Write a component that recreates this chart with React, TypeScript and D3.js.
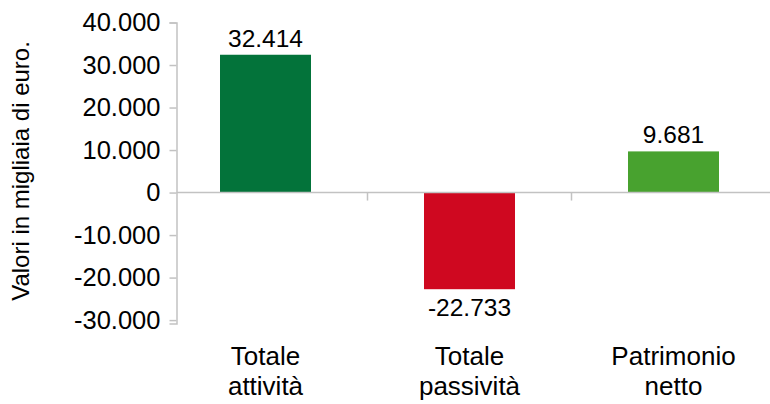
import { useEffect, useRef } from "react";
import * as d3 from "d3";

const categories = ["Totale attività", "Totale passività", "Patrimonio netto"];
const categoryLines = [
  ["Totale", "attività"],
  ["Totale", "passività"],
  ["Patrimonio", "netto"],
];
const values = [32414, -22733, 9681];
const barColors = ["#03733a", "#cf0820", "#48a22f"];
const yTicks = [-30000, -20000, -10000, 0, 10000, 20000, 30000, 40000];
const yTitle = "Valori in migliaia di euro.";

const width = 770;
const height = 404;

const itLocale = d3.formatLocale({
  decimal: ",",
  thousands: ".",
  grouping: [3],
  currency: ["€", ""],
  minus: "-",
});
const fmt = itLocale.format(",d");

export default function App() {
  const svgRef = useRef<SVGSVGElement>(null);

  useEffect(() => {
    if (!svgRef.current) return;
    const svg = d3.select(svgRef.current);
    svg.selectAll("*").remove();

    const font = "'Liberation Sans', Arial, sans-serif";
    const axisColor = "#c2c2c2";
    const axisX = 176.5;

    const y = d3.scaleLinear().domain([-30800, 40000]).range([323.5, 22.5]);

    const x = d3
      .scaleBand()
      .domain(categories)
      .range([163.5, 775.5])
      .paddingInner(0.554)
      .paddingOuter(0.277);

    const y0 = y(0);

    // Bars
    svg
      .selectAll(".bar")
      .data(values)
      .enter()
      .append("rect")
      .attr("class", "bar")
      .attr("x", (_, i) => x(categories[i]) || 0)
      .attr("width", x.bandwidth())
      .attr("y", d => y(Math.max(0, d)))
      .attr("height", d => Math.abs(y(d) - y0))
      .attr("fill", (_, i) => barColors[i]);

    // Zero line
    svg
      .append("line")
      .attr("x1", axisX)
      .attr("x2", width)
      .attr("y1", y0)
      .attr("y2", y0)
      .attr("stroke", axisColor)
      .attr("stroke-width", 1.5);

    // Category separators on the zero line
    const gap = (x.step() - x.bandwidth()) / 2;
    svg
      .selectAll(".xtick")
      .data(categories.slice(1))
      .enter()
      .append("line")
      .attr("class", "xtick")
      .attr("x1", d => (x(d) || 0) - gap)
      .attr("x2", d => (x(d) || 0) - gap)
      .attr("y1", y0)
      .attr("y2", y0 + 8)
      .attr("stroke", axisColor)
      .attr("stroke-width", 1.5);

    // Y axis
    const yAxis = svg
      .append("g")
      .attr("transform", `translate(${axisX},0)`)
      .call(
        d3
          .axisLeft(y)
          .tickValues(yTicks)
          .tickFormat(d => fmt(d as number))
          .tickSize(7)
          .tickSizeOuter(7)
          .tickPadding(9)
      );
    yAxis.attr("font-size", 25.5).attr("font-family", font);
    yAxis.select(".domain").attr("stroke", axisColor).attr("stroke-width", 1.5);
    yAxis.selectAll(".tick line").attr("stroke", axisColor).attr("stroke-width", 1.5);
    yAxis.selectAll(".tick text").attr("fill", "#000");

    // Value labels
    svg
      .selectAll(".val")
      .data(values)
      .enter()
      .append("text")
      .attr("class", "val")
      .attr("x", (_, i) => (x(categories[i]) || 0) + x.bandwidth() / 2)
      .attr("y", d => (d >= 0 ? y(d) - 8 : y(d) + 27))
      .attr("text-anchor", "middle")
      .attr("font-family", font)
      .attr("font-size", 24.5)
      .attr("fill", "#000")
      .text(d => fmt(d));

    // Category labels
    const cat = svg
      .selectAll(".cat")
      .data(categoryLines)
      .enter()
      .append("text")
      .attr("class", "cat")
      .attr("text-anchor", "middle")
      .attr("font-family", font)
      .attr("font-size", 26)
      .attr("fill", "#000");
    cat
      .selectAll("tspan")
      .data((d, i) => d.map(line => ({ line, i })))
      .enter()
      .append("tspan")
      .attr("x", d => (x(categories[d.i]) || 0) + x.bandwidth() / 2)
      .attr("y", (_, j) => 365 + j * 30)
      .text(d => d.line);

    // Y axis title
    svg
      .append("text")
      .attr("transform", `translate(29,171) rotate(-90)`)
      .attr("text-anchor", "middle")
      .attr("font-family", font)
      .attr("font-size", 24)
      .attr("fill", "#000")
      .text(yTitle);
  }, []);

  return (
    <div style={{ position: "absolute", left: 0, top: 0 }}>
      <svg ref={svgRef} width={width} height={height} style={{ display: "block" }}></svg>
    </div>
  );
}
